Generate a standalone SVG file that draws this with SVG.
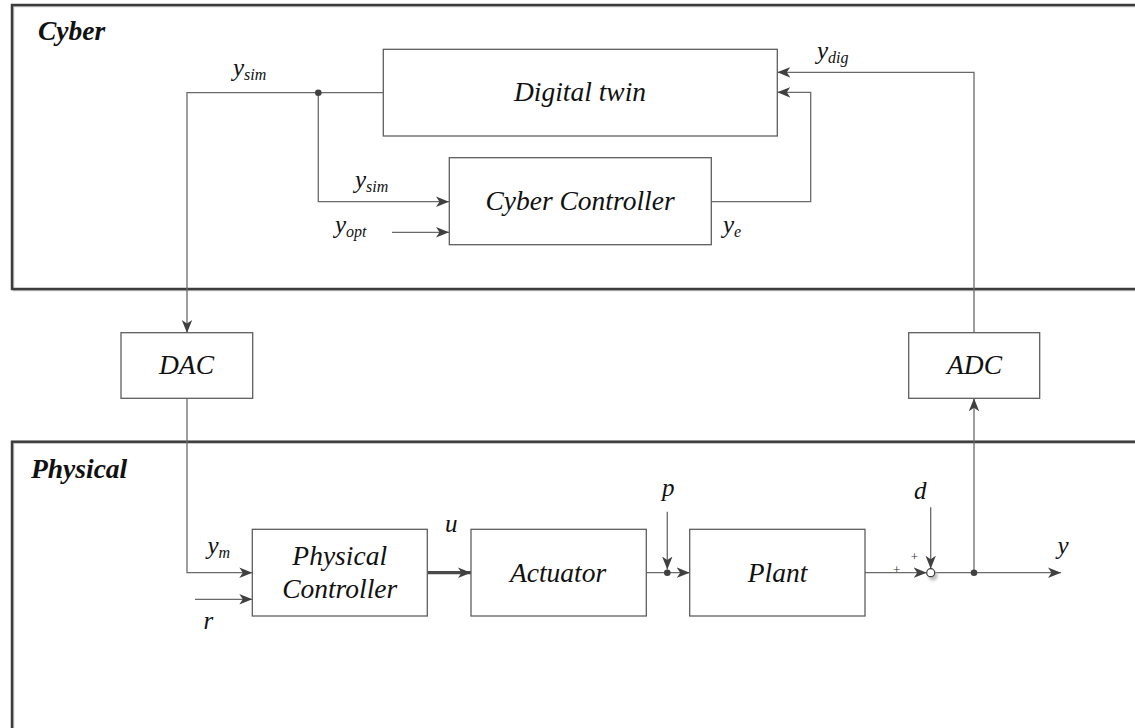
<svg xmlns="http://www.w3.org/2000/svg" width="1135" height="728" viewBox="0 0 1135 728">
<style>
.frame{fill:none;stroke:#3c3c3c;stroke-width:2.5}
.frameshadow{fill:none;stroke:#c4c4c4;stroke-width:1.5}
.box{fill:#fff;stroke:#5e5e5e;stroke-width:1.3}
.wire{fill:none;stroke:#6a6a6a;stroke-width:1.3}
.thick{fill:none;stroke:#4a4a4a;stroke-width:3.2}
.lbl{font-family:"Liberation Serif","Times New Roman",serif;font-style:italic;font-size:27.5px;fill:#111;text-anchor:middle}
.title{font-family:"Liberation Serif","Times New Roman",serif;font-style:italic;font-weight:bold;font-size:27.5px;fill:#111}
.var{font-family:"Liberation Serif","Times New Roman",serif;font-style:italic;font-size:25px;fill:#111}
.sub{font-size:16px}
.sign{font-family:"Liberation Serif","Times New Roman",serif;font-size:13px;fill:#333;text-anchor:middle}
.dot{fill:#404040}
</style>
<defs>
<marker id="arr" markerUnits="userSpaceOnUse" markerWidth="14" markerHeight="12" refX="13" refY="6" orient="auto">
<path d="M0,0.8 L13,6 L0,11.2 L3.5,6 Z" fill="#404040"/>
</marker>
<filter id="blur" x="-1" y="-1" width="3" height="3"><feGaussianBlur stdDeviation="1.5"/></filter>
</defs>
<rect width="1135" height="728" fill="#fff"/>

<g id="cyber-frame">
<rect class="frameshadow" x="13.5" y="6.5" width="1130" height="284"/>
<rect class="frame" x="12" y="5" width="1130" height="284"/>
<text class="title" x="38" y="40">Cyber</text>
</g>
<g id="physical-frame">
<rect class="frameshadow" x="13.5" y="443.2" width="1130" height="300"/>
<rect class="frame" x="12" y="441.7" width="1130" height="300"/>
<text class="title" x="31" y="478">Physical</text>
</g>

<g id="connectors">
<path class="wire" d="M383,92.7 H187 V333" marker-end="url(#arr)"/>
<path class="wire" d="M318.3,92.7 V201.7 H449" marker-end="url(#arr)"/>
<path class="wire" d="M392,232.3 H449" marker-end="url(#arr)"/>
<path class="wire" d="M711,201.7 H810.7 V92.3 H777.3" marker-end="url(#arr)"/>
<path class="wire" d="M974,333 V72.3 H777.3" marker-end="url(#arr)"/>
<path class="wire" d="M974,572.7 V398.3" marker-end="url(#arr)"/>
<path class="wire" d="M187,398.3 V572.7 H252.3" marker-end="url(#arr)"/>
<path class="wire" d="M195,599.3 H252.3" marker-end="url(#arr)"/>
<path class="thick" d="M427.3,572.7 H471" marker-end="url(#arr)"/>
<path class="wire" d="M646.3,572.7 H689.7" marker-end="url(#arr)"/>
<path class="wire" d="M667.3,511.7 V569.5" marker-end="url(#arr)"/>
<path class="wire" d="M865,572.7 H926.7" marker-end="url(#arr)"/>
<path class="wire" d="M930.7,507.3 V568.7" marker-end="url(#arr)"/>
<path class="wire" d="M934.7,572.7 H1061" marker-end="url(#arr)"/>
<circle class="dot" cx="318.3" cy="92.7" r="3.3"/>
<circle class="dot" cx="667.3" cy="572.7" r="3.3"/>
<circle class="dot" cx="974" cy="572.7" r="3.3"/>
</g>

<g id="sum">
<circle cx="933" cy="576" r="4.5" fill="#bdbdbd" filter="url(#blur)"/>
<circle cx="930.7" cy="572.7" r="4" fill="#fff" stroke="#3c3c3c" stroke-width="1.2"/>
<text class="sign" x="896.7" y="574">+</text>
<text class="sign" x="914.3" y="561">+</text>
</g>

<g id="digital-twin">
<rect class="box" x="383.3" y="49.3" width="394" height="86.7"/>
<text class="lbl" x="580" y="101">Digital twin</text>
</g>
<g id="cyber-controller">
<rect class="box" x="449.3" y="157.7" width="262" height="87"/>
<text class="lbl" x="580" y="210">Cyber Controller</text>
</g>
<g id="dac">
<rect class="box" x="121" y="332.7" width="131.7" height="65.6"/>
<text class="lbl" x="186.5" y="374">DAC</text>
</g>
<g id="adc">
<rect class="box" x="908.7" y="332.7" width="131" height="65.6"/>
<text class="lbl" x="974.5" y="374">ADC</text>
</g>
<g id="physical-controller">
<rect class="box" x="252.3" y="529.3" width="175" height="86.7"/>
<text class="lbl" x="339.7" y="565">Physical</text>
<text class="lbl" x="339.7" y="598.3">Controller</text>
</g>
<g id="actuator">
<rect class="box" x="471" y="529.3" width="175.3" height="86.7"/>
<text class="lbl" x="558" y="581.7">Actuator</text>
</g>
<g id="plant">
<rect class="box" x="689.7" y="529.3" width="175.3" height="86.7"/>
<text class="lbl" x="777.5" y="581.7">Plant</text>
</g>

<g id="labels">
<text class="var" x="233" y="76">y<tspan class="sub" dy="4">sim</tspan></text>
<text class="var" x="355" y="188">y<tspan class="sub" dy="4">sim</tspan></text>
<text class="var" x="335" y="232.5">y<tspan class="sub" dy="4">opt</tspan></text>
<text class="var" x="817" y="59">y<tspan class="sub" dy="4">dig</tspan></text>
<text class="var" x="723" y="233">y<tspan class="sub" dy="4">e</tspan></text>
<text class="var" x="207.5" y="554">y<tspan class="sub" dy="4">m</tspan></text>
<text class="var" x="203.5" y="628.5">r</text>
<text class="var" x="445" y="532">u</text>
<text class="var" x="662" y="496">p</text>
<text class="var" x="914" y="498.5">d</text>
<text class="var" x="1057.5" y="553.5">y</text>
</g>
</svg>
